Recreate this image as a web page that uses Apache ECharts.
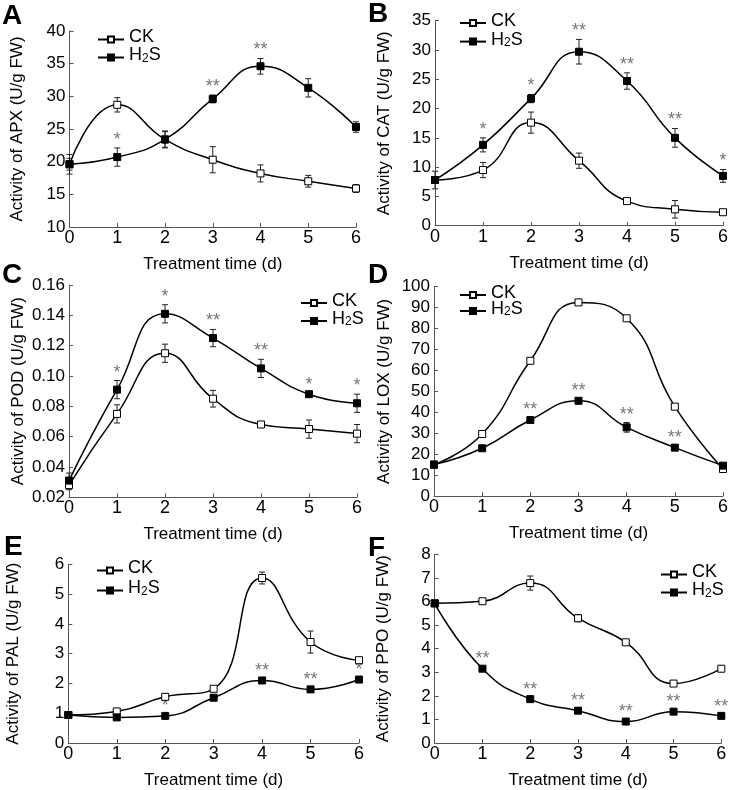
<!DOCTYPE html>
<html><head><meta charset="utf-8">
<script src="https://cdn.jsdelivr.net/npm/echarts@6/dist/echarts.min.js"></script>
<style>html,body{margin:0;padding:0;background:#fff}#c{width:734px;height:790px}</style>
</head><body><div id="c"></div><script>
// ---------- data ----------
const days = [0, 1, 2, 3, 4, 5, 6];
const groupNames = ['CK', 'H2S'];
const xTitle = 'Treatment time (d)';

// A - APX
const apxCK = [19.6, 28.7, 23.4, 20.3, 18.2, 17.0, 15.9];
const apxCKErr = [1.5, 1.1, 1.3, 2.0, 1.3, 0.9, 0.6];
const apxH2S = [19.6, 20.7, 23.4, 29.6, 34.6, 31.3, 25.3];
const apxH2SErr = [0.9, 1.4, 1.2, 0.6, 1.2, 1.4, 0.8];
const apxSig = ['', '*', '', '**', '**', '', ''];

// B - CAT
const catCK = [7.8, 9.5, 17.6, 11.1, 4.2, 2.8, 2.3];
const catCKErr = [1.5, 1.3, 1.8, 1.3, 0.4, 1.5, 0.3];
const catH2S = [7.8, 13.8, 21.7, 29.7, 24.7, 15.0, 8.5];
const catH2SErr = [0.5, 1.2, 0.7, 2.1, 1.4, 1.6, 1.1];
const catSig = ['', '*', '*', '**', '**', '**', '*'];

// C - POD
const podCK = [0.028, 0.075, 0.115, 0.085, 0.068, 0.065, 0.062];
const podCKErr = [0.003, 0.006, 0.006, 0.0055, 0.001, 0.006, 0.006];
const podH2S = [0.031, 0.091, 0.141, 0.125, 0.105, 0.088, 0.082];
const podH2SErr = [0.005, 0.006, 0.006, 0.0057, 0.006, 0.001, 0.006];
const podSig = ['', '*', '*', '**', '**', '*', '*'];

// D - LOX
const loxCK = [15.0, 29.6, 64.6, 92.5, 84.9, 42.7, 12.9];
const loxCKErr = [1.2, 1.0, 1.0, 1.0, 1.0, 1.0, 1.0];
const loxH2S = [15.0, 22.8, 36.3, 45.5, 32.8, 23.1, 14.5];
const loxH2SErr = [1.5, 1.0, 1.0, 1.0, 2.3, 1.0, 1.0];
const loxSig = ['', '', '**', '**', '**', '**', ''];

// E - PAL
const palCK = [0.94, 1.06, 1.55, 1.82, 5.54, 3.39, 2.78];
const palCKErr = [0.05, 0.05, 0.05, 0.05, 0.2, 0.37, 0.05];
const palH2S = [0.94, 0.86, 0.91, 1.52, 2.10, 1.80, 2.13];
const palH2SErr = [0.05, 0.05, 0.05, 0.05, 0.05, 0.05, 0.05];
const palSig = ['', '', '*', '', '**', '**', '*'];

// F - PPO
const ppoCK = [5.92, 6.01, 6.78, 5.29, 4.27, 2.52, 3.15];
const ppoCKErr = [0.05, 0.08, 0.3, 0.15, 0.05, 0.05, 0.05];
const ppoH2S = [5.92, 3.15, 1.86, 1.37, 0.91, 1.33, 1.15];
const ppoH2SErr = [0.05, 0.05, 0.05, 0.05, 0.05, 0.05, 0.05];
const ppoSig = ['', '**', '**', '**', '**', '**', '**'];

// ---------- layout ----------
const panels = [
  {letter: 'A', enzyme: 'APX', ck: apxCK, ckErr: apxCKErr, h2s: apxH2S, h2sErr: apxH2SErr, sig: apxSig,
   yMin: 10, yMax: 40, yStep: 5, dec: 0,
   grid: {left: 69.5, top: 31, width: 286.5, height: 196}, nameGap: 43.5,
   legend: {left: 97, top: 28.5, gap: 0}, letterPos: [2, 2]},
  {letter: 'B', enzyme: 'CAT', ck: catCK, ckErr: catCKErr, h2s: catH2S, h2sErr: catH2SErr, sig: catSig,
   yMin: 0, yMax: 35, yStep: 5, dec: 0,
   grid: {left: 435, top: 20.7, width: 288, height: 205}, nameGap: 42.5,
   legend: {left: 459, top: 12, gap: 0.6}, letterPos: [368, 0]},
  {letter: 'C', enzyme: 'POD', ck: podCK, ckErr: podCKErr, h2s: podH2S, h2sErr: podH2SErr, sig: podSig,
   yMin: 0.02, yMax: 0.16, yStep: 0.02, dec: 2,
   grid: {left: 69, top: 285, width: 288, height: 212.3}, nameGap: 42.5,
   legend: {left: 300, top: 292, gap: 0}, letterPos: [2, 261]},
  {letter: 'D', enzyme: 'LOX', ck: loxCK, ckErr: loxCKErr, h2s: loxH2S, h2sErr: loxH2SErr, sig: loxSig,
   yMin: 0, yMax: 100, yStep: 10, dec: 0,
   grid: {left: 434, top: 286.7, width: 289, height: 209.3}, nameGap: 41.5,
   legend: {left: 459, top: 284, gap: -2}, letterPos: [368, 261]},
  {letter: 'E', enzyme: 'PAL', ck: palCK, ckErr: palCKErr, h2s: palH2S, h2sErr: palH2SErr, sig: palSig,
   yMin: 0, yMax: 6, yStep: 1, dec: 0,
   grid: {left: 68.3, top: 564.3, width: 290.7, height: 181.7}, nameGap: 46.5,
   legend: {left: 96, top: 559.5, gap: 2}, letterPos: [4, 533]},
  {letter: 'F', enzyme: 'PPO', ck: ppoCK, ckErr: ppoCKErr, h2s: ppoH2S, h2sErr: ppoH2SErr, sig: ppoSig,
   yMin: 0, yMax: 8, yStep: 1, dec: 0,
   grid: {left: 434.7, top: 554.3, width: 286.6, height: 190.7}, nameGap: 42.5,
   legend: {left: 660, top: 563.5, gap: 0}, letterPos: [368, 534]}
];

const FONT = "'Liberation Sans', Arial, sans-serif";
const AX = '#555';

function errSeries(idx, vals, errs, sig, name) {
  return {
    type: 'custom', name: name, xAxisIndex: idx, yAxisIndex: idx, z: 1, silent: true,
    data: days.map((d, i) => [d, vals[i], errs[i]]),
    renderItem: function (params, api) {
      const x = api.value(0), y = api.value(1), e = api.value(2);
      const top = api.coord([x, y + e]);
      const bot = api.coord([x, y - e]);
      const hw = 3;
      const st = {stroke: '#222', lineWidth: 1};
      const children = [
        {type: 'line', shape: {x1: top[0], y1: top[1], x2: bot[0], y2: bot[1]}, style: st},
        {type: 'line', shape: {x1: top[0] - hw, y1: top[1], x2: top[0] + hw, y2: top[1]}, style: st},
        {type: 'line', shape: {x1: bot[0] - hw, y1: bot[1], x2: bot[0] + hw, y2: bot[1]}, style: st}
      ];
      if (sig && sig[params.dataIndex]) {
        children.push({type: 'text', x: top[0], y: top[1] - 8,
          style: {text: sig[params.dataIndex], textAlign: 'center', textVerticalAlign: 'middle',
                  fill: '#777', font: '18px ' + FONT}});
      }
      return {type: 'group', children: children};
    }
  };
}

const option = {
  animation: false,
  backgroundColor: '#fff',
  textStyle: {fontFamily: FONT},
  grid: [], xAxis: [], yAxis: [], series: [], legend: [], graphic: []
};

panels.forEach((p, idx) => {
  option.grid.push(Object.assign({containLabel: false}, p.grid));
  option.xAxis.push({
    type: 'value', gridIndex: idx, min: 0, max: 6, interval: 1,
    name: xTitle, nameLocation: 'middle', nameGap: 29,
    nameTextStyle: {fontSize: 17, color: '#000', fontFamily: FONT},
    axisLine: {show: true, lineStyle: {color: AX, width: 1}},
    axisTick: {show: true, inside: true, length: 4, lineStyle: {color: AX}},
    axisLabel: {fontSize: 18, color: '#000', margin: 2, fontFamily: FONT},
    splitLine: {show: false}
  });
  option.yAxis.push({
    type: 'value', gridIndex: idx, min: p.yMin, max: p.yMax, interval: p.yStep,
    name: 'Activity of ' + p.enzyme + ' (U/g FW)', nameLocation: 'middle', nameGap: p.nameGap,
    nameTextStyle: {fontSize: 17, color: '#000', fontFamily: FONT},
    axisLine: {show: true, lineStyle: {color: AX, width: 1}},
    axisTick: {show: true, inside: true, length: 4, lineStyle: {color: AX}},
    axisLabel: {fontSize: 17, color: '#000', margin: 4, fontFamily: FONT,
      formatter: v => p.dec ? v.toFixed(p.dec) : String(Math.round(v))},
    splitLine: {show: false}
  });
  option.series.push(errSeries(idx, p.ck, p.ckErr, null, 'err_ck_' + p.letter));
  option.series.push(errSeries(idx, p.h2s, p.h2sErr, p.sig, 'err_h2s_' + p.letter));
  option.series.push({
    type: 'line', name: groupNames[0], xAxisIndex: idx, yAxisIndex: idx, z: 3,
    data: days.map((d, i) => [d, p.ck[i]]), smooth: 0.5,
    symbol: 'rect', symbolSize: 7, showAllSymbol: true,
    lineStyle: {color: '#000', width: 1.5},
    itemStyle: {color: '#fff', borderColor: '#000', borderWidth: 1}
  });
  option.series.push({
    type: 'line', name: groupNames[1], xAxisIndex: idx, yAxisIndex: idx, z: 4,
    data: days.map((d, i) => [d, p.h2s[i]]), smooth: 0.5,
    symbol: 'rect', symbolSize: 7, showAllSymbol: true,
    lineStyle: {color: '#000', width: 1.5},
    itemStyle: {color: '#000', borderColor: '#000', borderWidth: 1}
  });
  option.legend.push({
    data: groupNames, orient: 'vertical', left: p.legend.left, top: p.legend.top,
    itemWidth: 26, itemHeight: 7.5, itemGap: p.legend.gap, padding: 0,
    selectedMode: false,
    formatter: n => n === 'H2S' ? '{b|H}{s|2}{b|S}' : '{b|' + n + '}',
    textStyle: {fontSize: 18, color: '#000', fontFamily: FONT, lineHeight: 14,
      rich: {
        b: {fontSize: 18, color: '#000', fontFamily: FONT, lineHeight: 14, verticalAlign: 'bottom'},
        s: {fontSize: 12, color: '#000', fontFamily: FONT, lineHeight: 14, verticalAlign: 'bottom'}
      }}
  });
  option.graphic.push({
    type: 'text', left: p.letterPos[0], top: p.letterPos[1],
    style: {text: p.letter, font: 'bold 28px ' + FONT, fill: '#000'}
  });
});

const chart = echarts.init(document.getElementById('c'), null, {renderer: 'canvas'});
chart.setOption(option);
</script></body></html>
